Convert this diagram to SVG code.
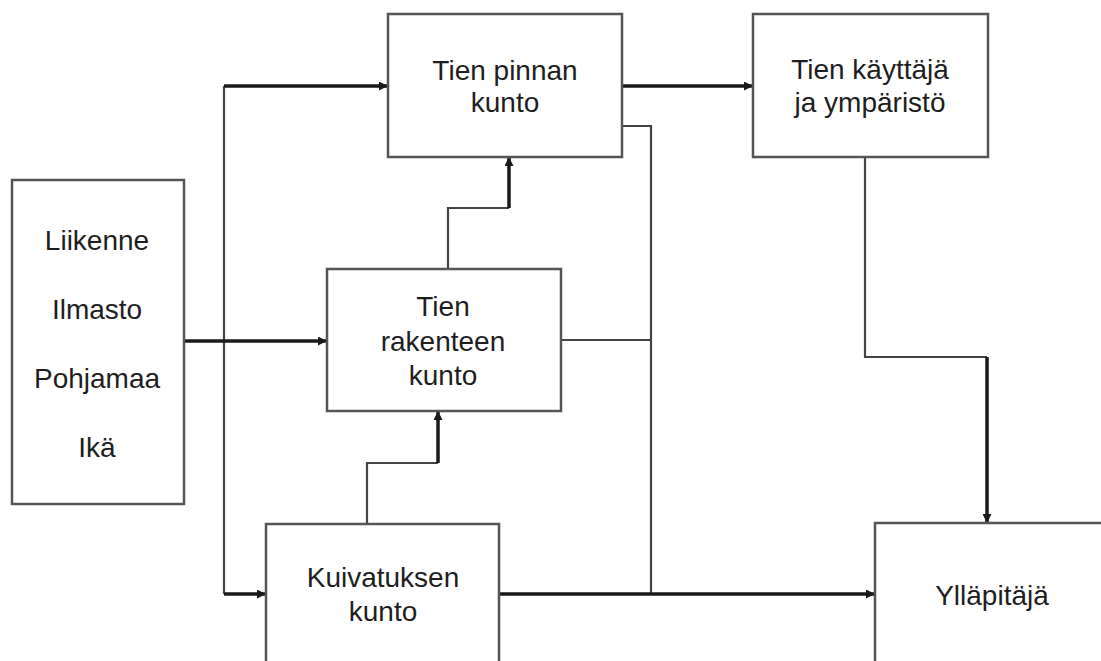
<svg xmlns="http://www.w3.org/2000/svg" width="1101" height="661" viewBox="0 0 1101 661">
<defs>
<style>
.box{fill:#fff;stroke:#555;stroke-width:2.5}
.t{font-family:"Liberation Sans",Arial,sans-serif;font-size:28px;fill:#1e1e1e;text-anchor:middle}
.thin{fill:none;stroke:#444;stroke-width:2.2}
.thick{fill:none;stroke:#1a1a1a;stroke-width:3.5}
</style>
<marker id="ah" viewBox="0 0 10 10" refX="10" refY="5" markerWidth="10" markerHeight="9" markerUnits="userSpaceOnUse" orient="auto">
<path d="M0,0 L10,5 L0,10 z" fill="#1a1a1a"/>
</marker>
</defs>
<rect width="1101" height="661" fill="#fff"/>
<g id="connectors">
<path class="thin" d="M224,86 V594"/>
<path class="thick" d="M224,86 H388" marker-end="url(#ah)"/>
<path class="thick" d="M224,594 H266" marker-end="url(#ah)"/>
<path class="thick" d="M184,341 H327" marker-end="url(#ah)"/>
<path class="thick" d="M622,86 H753" marker-end="url(#ah)"/>
<path class="thin" d="M622,126 H651 V594"/>
<path class="thin" d="M561,340 H651"/>
<path class="thin" d="M448,269 V208 H509"/>
<path class="thick" d="M509,208 V157" marker-end="url(#ah)"/>
<path class="thin" d="M367,524 V463 H438"/>
<path class="thick" d="M438,463 V411" marker-end="url(#ah)"/>
<path class="thin" d="M865,157 V357 H987"/>
<path class="thick" d="M987,357 V523" marker-end="url(#ah)"/>
<path class="thick" d="M499,594 H875" marker-end="url(#ah)"/>
</g>
<g id="n-factors">
<rect class="box" x="12" y="180" width="172" height="324"/>
<text class="t" x="97" y="250">Liikenne</text>
<text class="t" x="97" y="319">Ilmasto</text>
<text class="t" x="97" y="388">Pohjamaa</text>
<text class="t" x="97" y="457">Ikä</text>
</g>
<g id="n-pinta">
<rect class="box" x="388" y="14" width="234" height="143"/>
<text class="t" x="505" y="80">Tien pinnan</text>
<text class="t" x="505" y="112">kunto</text>
</g>
<g id="n-kayttaja">
<rect class="box" x="753" y="14" width="235" height="143"/>
<text class="t" x="870" y="79">Tien käyttäjä</text>
<text class="t" x="870" y="112">ja ympäristö</text>
</g>
<g id="n-rakenne">
<rect class="box" x="327" y="269" width="234" height="142"/>
<text class="t" x="443" y="316">Tien</text>
<text class="t" x="443" y="351">rakenteen</text>
<text class="t" x="443" y="385">kunto</text>
</g>
<g id="n-kuivatus">
<rect class="box" x="266" y="524" width="233" height="150"/>
<text class="t" x="383" y="587">Kuivatuksen</text>
<text class="t" x="383" y="621">kunto</text>
</g>
<g id="n-yllapitaja">
<rect class="box" x="875" y="523" width="240" height="150"/>
<text class="t" x="992" y="605">Ylläpitäjä</text>
</g>
</svg>
